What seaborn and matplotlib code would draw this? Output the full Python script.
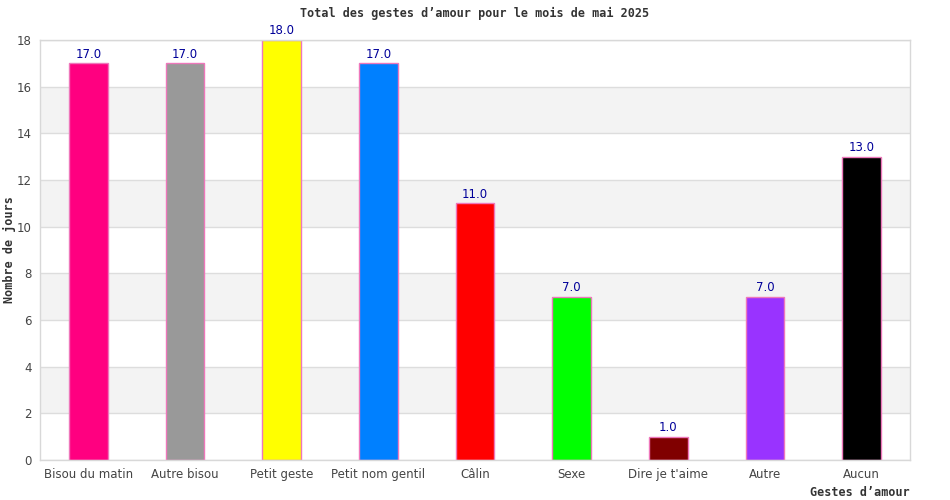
import matplotlib
matplotlib.use("Agg")
import matplotlib.pyplot as plt
import seaborn as sns
import pandas as pd

# Monthly tally of affectionate gestures
categories = ["Bisou du matin", "Autre bisou", "Petit geste", "Petit nom gentil",
              "Câlin", "Sexe", "Dire je t'aime", "Autre", "Aucun"]
days = [17, 17, 18, 17, 11, 7, 1, 7, 13]
bar_colors = ["#ff0080", "#999999", "#ffff00", "#0080ff", "#ff0000",
              "#00ff00", "#800000", "#9933ff", "#000000"]
y_ticks = [0, 2, 4, 6, 8, 10, 12, 14, 16, 18]

df = pd.DataFrame({"geste": categories, "jours": days})

sns.set_theme(style="white")
plt.rcParams["font.family"] = ["DejaVu Sans"]

fig = plt.figure(figsize=(9.5, 5), dpi=100)
ax = fig.add_axes([40 / 950, 1 - 460 / 500, 870 / 950, 420 / 500])

# alternating horizontal bands behind the bars
for lo in range(2, 18, 4):
    ax.axhspan(lo, lo + 2, color="#f3f3f3", zorder=0, lw=0)
for t in y_ticks:
    ax.axhline(t, color="#dddddd", lw=1, zorder=0.5)

sns.barplot(data=df, x="geste", y="jours", hue="geste", palette=bar_colors,
            saturation=1, width=0.4, legend=False, ax=ax,
            edgecolor="#ee77bb", linewidth=1, zorder=2)

for cont in ax.containers:
    ax.bar_label(cont, fmt="%.1f", color="#000099", fontsize=8.5, padding=2)

ax.set_ylim(0, 18)
ax.set_xlim(-0.5, len(categories) - 0.5)
ax.set_yticks(y_ticks)
ax.tick_params(axis="both", labelsize=8.5, colors="#444444", length=0, pad=6)
for s in ax.spines.values():
    s.set_color("#d8d8d8")
    s.set_linewidth(1)

ax.set_xlabel("")
ax.set_ylabel("")
mono = {"family": "DejaVu Sans Mono", "weight": "bold", "size": 8.5, "color": "#333333"}
fig.text(475 / 950, 1 - 13 / 500, "Total des gestes d’amour pour le mois de mai 2025",
         ha="center", va="center", **mono)
fig.text(910 / 950, 1 - 493 / 500, "Gestes d’amour", ha="right", va="center", **mono)
fig.text(10 / 950, 1 - 250 / 500, "Nombre de jours", ha="center", va="center",
         rotation=90, **mono)

fig.savefig("out.png", dpi=100)
